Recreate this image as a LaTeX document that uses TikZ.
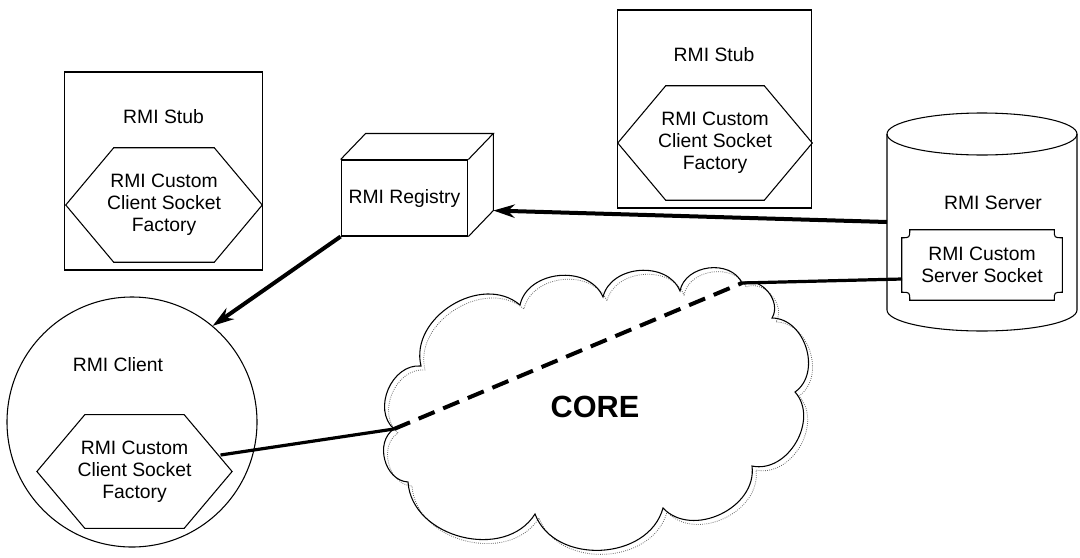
\documentclass[tikz,border=0pt]{standalone}
\usepackage{fontspec}
\setmainfont{Liberation Sans}
\usepackage{tikz}
\usetikzlibrary{calc,positioning,arrows.meta}

\tikzstyle{txt}      = [font=\fontsize{14.5}{16.5}\selectfont, align=center, inner sep=0pt]
\tikzstyle{frame}    = [draw, line width=0.8pt]
\tikzstyle{stubbox}  = [frame, inner sep=0pt, minimum width=149pt, minimum height=148.5pt]
\tikzstyle{hexbox}   = [txt, minimum width=147pt, minimum height=85.5pt]
\tikzstyle{puff}     = [bend left=72, looseness=1.1]
\tikzstyle{arrow}    = [line width=3pt, -{Stealth[length=16pt,width=10pt]}]
\tikzstyle{link}     = [line width=2.4pt]
\tikzstyle{tunnel}   = [line width=3pt, dash pattern=on 13pt off 7pt]

% hexagon round a node, corners cut 48 units in from each side
\newcommand{\hexframe}[1]{\draw[line width=0.8pt] (#1.west) -- ($(#1.north west)+(48,0)$) -- ($(#1.north east)+(-48,0)$) -- (#1.east) -- ($(#1.south east)+(-48,0)$) -- ($(#1.south west)+(48,0)$) -- cycle;}
% box with notched corners
\newcommand{\notchframe}[1]{\draw[line width=0.8pt] ($(#1.north west)+(8,0)$) -- ($(#1.north east)+(-8,0)$) .. controls ($(#1.north east)+(-8,8)$) .. ($(#1.north east)+(0,8)$) -- ($(#1.south east)+(0,-8)$) .. controls ($(#1.south east)+(-8,-8)$) .. ($(#1.south east)+(-8,0)$) -- ($(#1.south west)+(8,0)$) .. controls ($(#1.south west)+(8,-8)$) .. ($(#1.south west)+(0,-8)$) -- ($(#1.north west)+(0,8)$) .. controls ($(#1.north west)+(8,8)$) .. ($(#1.north west)+(8,0)$) -- cycle;}
% outline of the core cloud, puff by puff
\newcommand{\corepath}{(394,429) to[puff] (421,366) to[puff] (520,305) to[puff] (603,297) to[puff] (680,291) to[puff] (742,283) to[puff] (772,318) to[puff] (795,392) to[puff] (752,466) to[puff] (663,508) to[puff] (535,514) to[puff] (408,482) to[puff] (394,429)}

\begin{document}
\begin{tikzpicture}[x=0.75pt,y=-0.75pt]
    \useasboundingbox (0,0) rectangle (1080,557);

    % stubs
    \node[stubbox] (stubL) at (163.5,171) {};
    \node[txt] (stubLtxt) at (163.5,117) {RMI Stub};
    \node[hexbox] (hexL) at (164,205) {RMI Custom\\Client Socket\\Factory};
    \hexframe{hexL}

    \node[stubbox, minimum width=146pt] (stubR) at (714.5,109) {};
    \node[txt] (stubRtxt) at (714,55) {RMI Stub};
    \node[hexbox, minimum width=145.5pt] (hexR) at (715,143) {RMI Custom\\Client Socket\\Factory};
    \hexframe{hexR}

    % registry
    \node[frame, txt, minimum width=95pt, minimum height=57pt] (reg) at (404.5,198) {RMI Registry};
    \draw[line width=0.8pt] (reg.north west) -- ++(25,-26) -- ($(reg.north east)+(25,-26)$) coordinate (regne) -- (reg.north east);
    \draw[line width=0.8pt] (regne) -- ($(reg.south east)+(25,-26)$) coordinate (regse) -- (reg.south east);

    % server
    \draw[line width=0.8pt] (982,134) ellipse [x radius=95, y radius=21];
    \draw[line width=0.8pt] (887,134) -- (887,310) arc[start angle=180, end angle=0, x radius=95, y radius=21] -- (1077,134);
    \coordinate (srvin) at (887,222);
    \node[txt] (srv) at (993,203) {RMI Server};
    \node[txt, minimum width=120pt, minimum height=52.5pt] (sock) at (982,265) {RMI Custom\\Server Socket};
    \notchframe{sock}
    \coordinate (sockin) at (902,279);

    % client
    \node[frame, circle, inner sep=0pt, minimum size=187.5pt] (client) at (132,422) {};
    \node[txt] (clienttxt) at (118,365) {RMI Client};
    \node[hexbox, minimum width=146pt, minimum height=85pt] (hexC) at (134.5,471.5) {RMI Custom\\Client Socket\\Factory};
    \hexframe{hexC}
    \coordinate (hexCout) at (220.5,455);

    % core network
    \draw[black!60, densely dotted, line width=0.6pt, shift={(4,4)}] \corepath;
    \draw[line width=0.8pt] \corepath;
    \node[font=\fontsize{23}{23}\selectfont\bfseries] (core) at (595,407) {CORE};
    \coordinate (cL) at (394,429);
    \coordinate (cR) at (742,283);

    \draw[link] (hexCout) -- (cL);
    \draw[tunnel] (cL) -- (cR);
    \draw[link] (cR) -- (sockin);

    \draw[arrow] (srvin) -- (regse);
    \draw[arrow] (reg.south west) -- (client.50);
\end{tikzpicture}
\end{document}
